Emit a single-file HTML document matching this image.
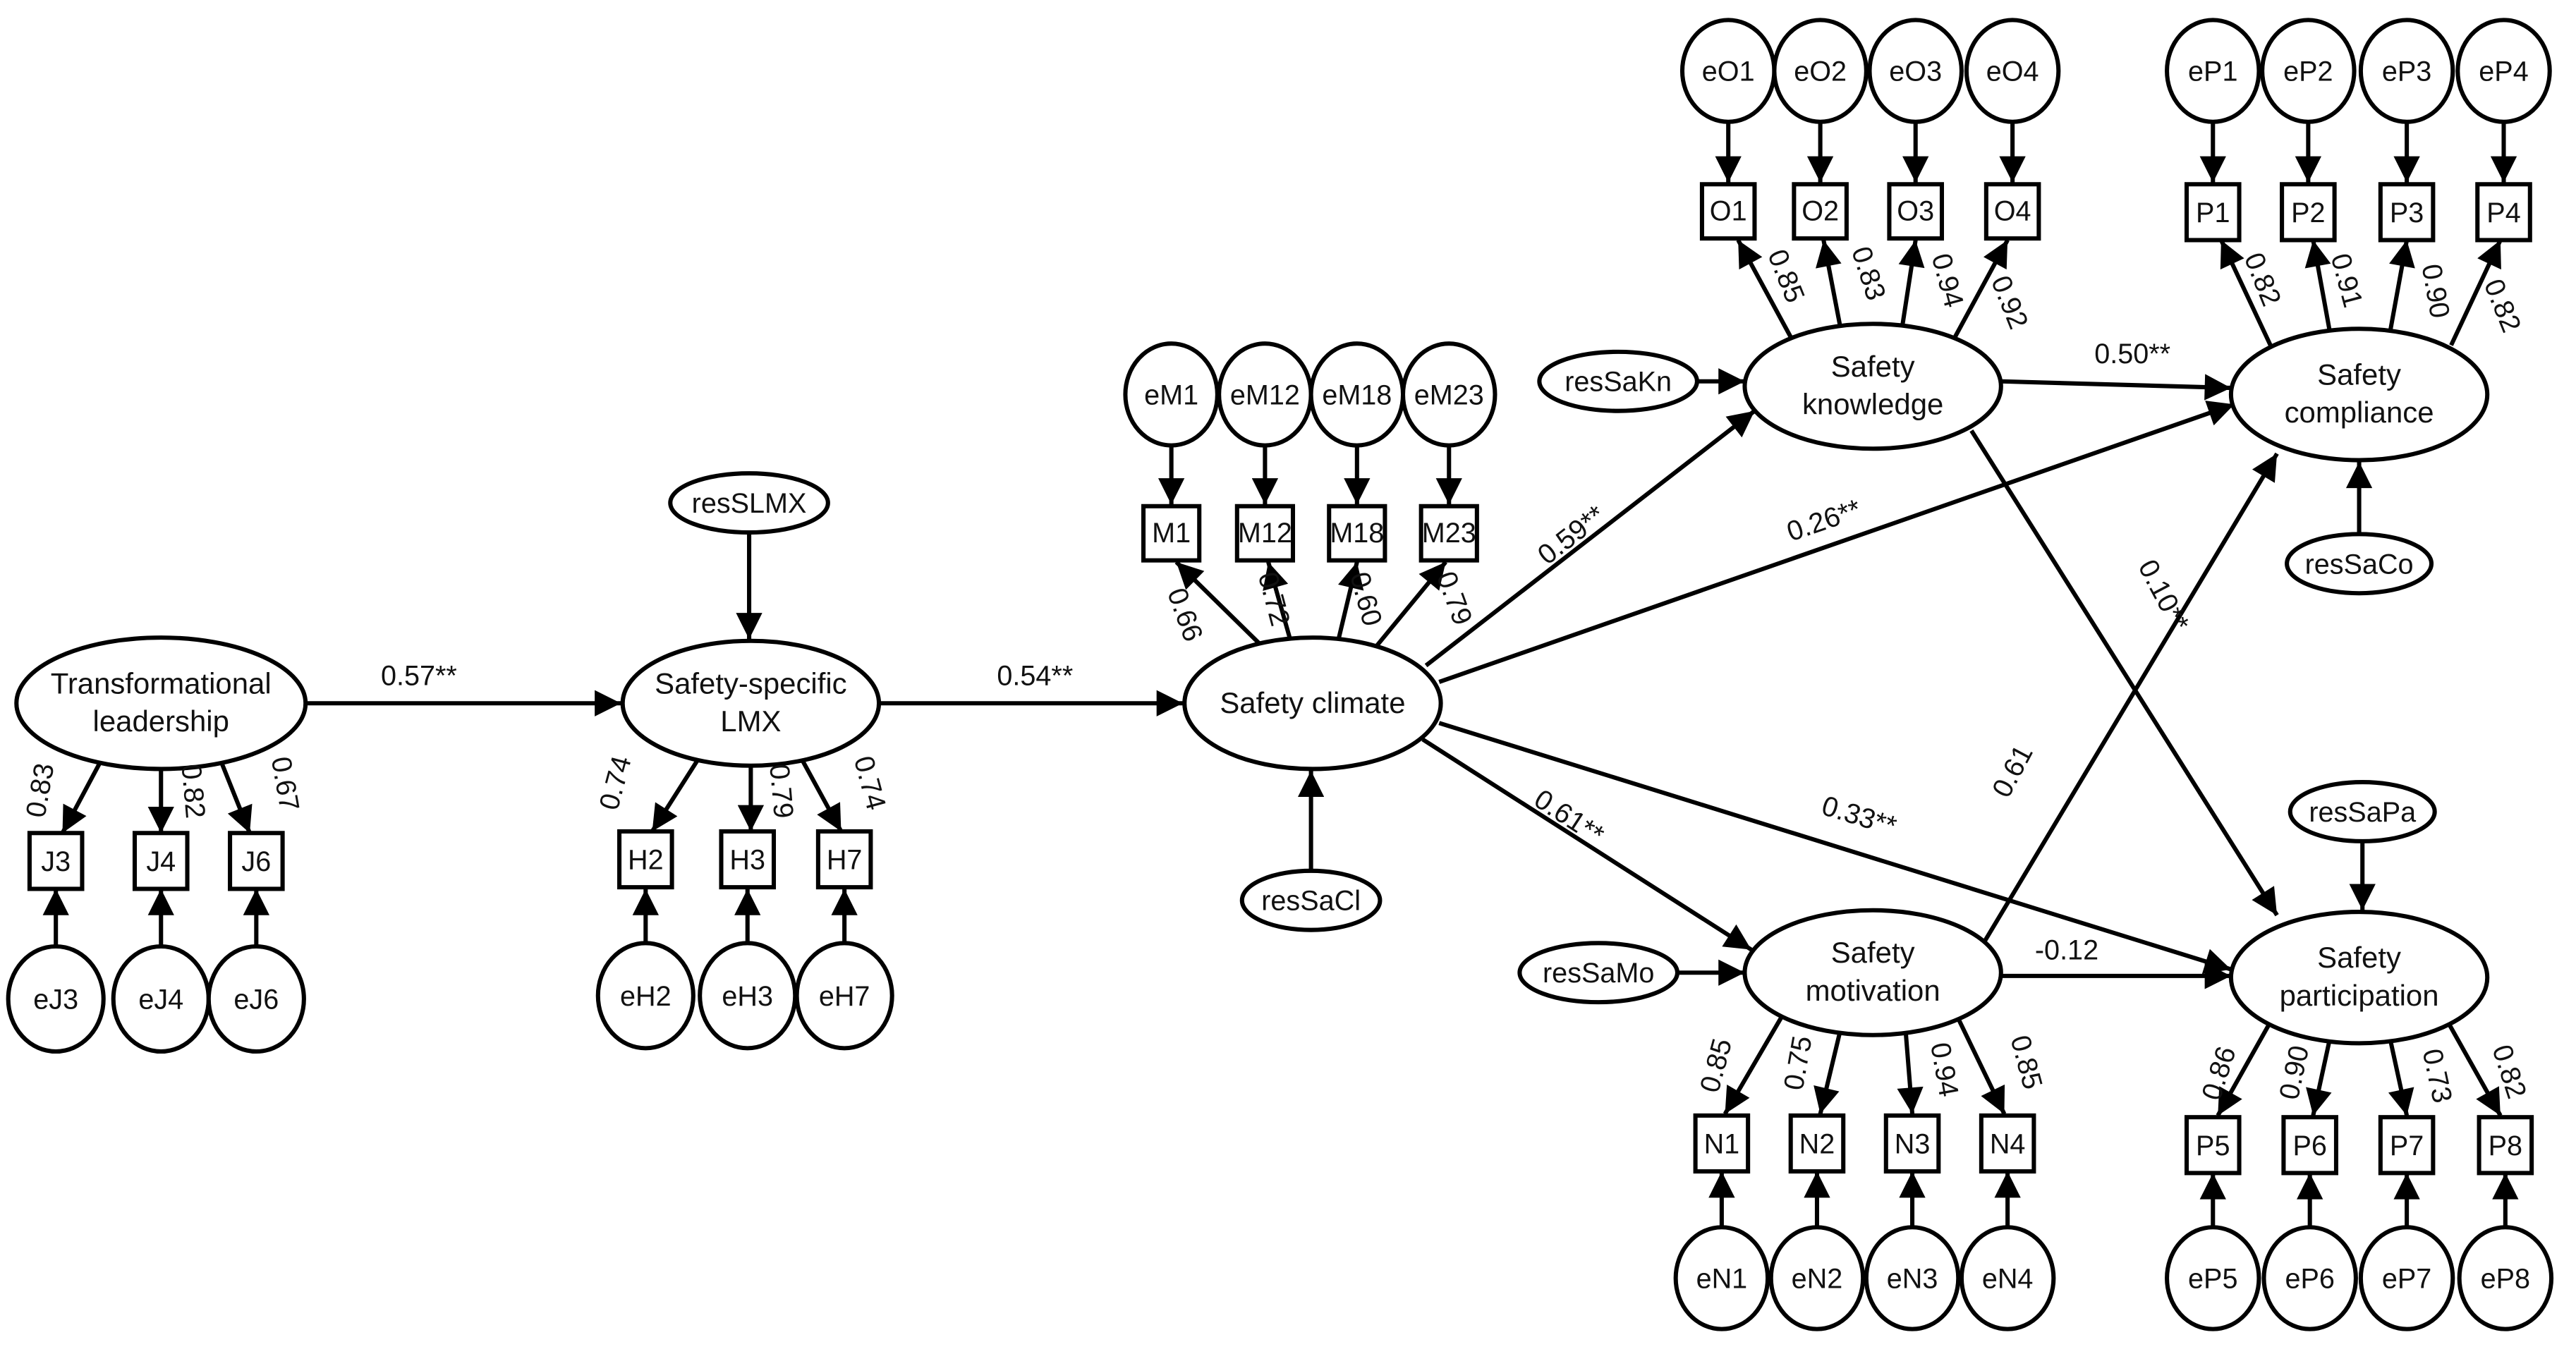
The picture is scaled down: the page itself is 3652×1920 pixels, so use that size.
<!DOCTYPE html>
<html><head><meta charset="utf-8"><style>
html,body{margin:0;padding:0;background:#fff}
svg{display:block}
text{font-family:"Liberation Sans",sans-serif;fill:#111}
</style></head><body>
<svg width="3652" height="1920" viewBox="0 0 1568 824" xmlns="http://www.w3.org/2000/svg">
<defs>
<marker id="a" viewBox="0 0 10 10" refX="10" refY="5" markerWidth="25" markerHeight="16" markerUnits="userSpaceOnUse" orient="auto"><path d="M0,0L10,5L0,10z" fill="#000"/></marker>
</defs>
<g stroke="#000" stroke-width="2.6" fill="none" marker-end="url(#a)">
<line x1="186" y1="428" x2="378" y2="428"/>
<line x1="535" y1="428" x2="720" y2="428"/>
<line x1="868" y1="405" x2="1068" y2="250"/>
<line x1="876" y1="415" x2="1360" y2="246"/>
<line x1="866" y1="450" x2="1066" y2="578"/>
<line x1="876" y1="440" x2="1358" y2="590"/>
<line x1="1218" y1="232" x2="1358" y2="236"/>
<line x1="1200" y1="262" x2="1386" y2="557"/>
<line x1="1208" y1="573" x2="1386" y2="276"/>
<line x1="1218" y1="594" x2="1358" y2="594"/>
<line x1="456" y1="324" x2="456" y2="389"/>
<line x1="798" y1="530" x2="798" y2="469"/>
<line x1="1033" y1="232" x2="1062" y2="232"/>
<line x1="1436" y1="325" x2="1436" y2="281"/>
<line x1="1021" y1="592" x2="1062" y2="592"/>
<line x1="1438" y1="512" x2="1438" y2="554"/>
<line x1="62" y1="462" x2="38" y2="507"/>
<line x1="98" y1="468" x2="98" y2="507"/>
<line x1="134" y1="462" x2="152" y2="507"/>
<line x1="34" y1="576" x2="34" y2="541"/>
<line x1="98" y1="576" x2="98" y2="541"/>
<line x1="156" y1="576" x2="156" y2="541"/>
<line x1="425" y1="462" x2="397" y2="506"/>
<line x1="457" y1="466" x2="457" y2="506"/>
<line x1="488" y1="462" x2="512" y2="506"/>
<line x1="393" y1="574" x2="393" y2="541"/>
<line x1="455" y1="574" x2="455" y2="541"/>
<line x1="514" y1="574" x2="514" y2="541"/>
<line x1="768" y1="393" x2="716" y2="342"/>
<line x1="785" y1="388" x2="772" y2="342"/>
<line x1="815" y1="388" x2="826" y2="342"/>
<line x1="838" y1="393" x2="880" y2="342"/>
<line x1="713" y1="271" x2="713" y2="307"/>
<line x1="770" y1="271" x2="770" y2="307"/>
<line x1="826" y1="271" x2="826" y2="307"/>
<line x1="882" y1="271" x2="882" y2="307"/>
<line x1="1090" y1="205" x2="1058" y2="146"/>
<line x1="1120" y1="198" x2="1110" y2="146"/>
<line x1="1158" y1="198" x2="1166" y2="146"/>
<line x1="1190" y1="205" x2="1222" y2="146"/>
<line x1="1052" y1="74" x2="1052" y2="111"/>
<line x1="1108" y1="74" x2="1108" y2="111"/>
<line x1="1166" y1="74" x2="1166" y2="111"/>
<line x1="1225" y1="74" x2="1225" y2="111"/>
<line x1="1382" y1="210" x2="1352" y2="146"/>
<line x1="1418" y1="201" x2="1408" y2="146"/>
<line x1="1455" y1="201" x2="1465" y2="146"/>
<line x1="1492" y1="210" x2="1522" y2="146"/>
<line x1="1347" y1="74" x2="1347" y2="111"/>
<line x1="1405" y1="74" x2="1405" y2="111"/>
<line x1="1465" y1="74" x2="1465" y2="111"/>
<line x1="1524" y1="74" x2="1524" y2="111"/>
<line x1="1085" y1="618" x2="1050" y2="678"/>
<line x1="1120" y1="628" x2="1108" y2="678"/>
<line x1="1160" y1="628" x2="1164" y2="678"/>
<line x1="1192" y1="620" x2="1220" y2="678"/>
<line x1="1048" y1="747" x2="1048" y2="713"/>
<line x1="1106" y1="747" x2="1106" y2="713"/>
<line x1="1164" y1="747" x2="1164" y2="713"/>
<line x1="1222" y1="747" x2="1222" y2="713"/>
<line x1="1382" y1="622" x2="1350" y2="679"/>
<line x1="1418" y1="633" x2="1408" y2="679"/>
<line x1="1455" y1="633" x2="1465" y2="679"/>
<line x1="1490" y1="622" x2="1522" y2="679"/>
<line x1="1347" y1="747" x2="1347" y2="714"/>
<line x1="1406" y1="747" x2="1406" y2="714"/>
<line x1="1465" y1="747" x2="1465" y2="714"/>
<line x1="1525" y1="747" x2="1525" y2="714"/>
</g>
<g stroke="#000" stroke-width="2.6" fill="#fff">
<ellipse cx="98" cy="428" rx="88" ry="40"/>
<ellipse cx="457" cy="428" rx="78" ry="38"/>
<ellipse cx="456" cy="306" rx="48" ry="18"/>
<ellipse cx="799" cy="428" rx="78" ry="40"/>
<ellipse cx="798" cy="548" rx="42" ry="18"/>
<ellipse cx="1140" cy="235" rx="78" ry="38"/>
<ellipse cx="985" cy="232" rx="48" ry="18"/>
<ellipse cx="1436" cy="240" rx="78" ry="40"/>
<ellipse cx="1436" cy="343" rx="44" ry="18"/>
<ellipse cx="1140" cy="592" rx="78" ry="38"/>
<ellipse cx="973" cy="592" rx="48" ry="18"/>
<ellipse cx="1436" cy="595" rx="78" ry="40"/>
<ellipse cx="1438" cy="494" rx="44" ry="18"/>
<rect x="18" y="507" width="32" height="34"/><rect x="82" y="507" width="32" height="34"/><rect x="140" y="507" width="32" height="34"/>
<rect x="377" y="506" width="32" height="34"/><rect x="439" y="506" width="32" height="34"/><rect x="498" y="506" width="32" height="34"/>
<rect x="696" y="308" width="34" height="33"/><rect x="753" y="308" width="34" height="33"/><rect x="809" y="308" width="34" height="33"/><rect x="865" y="308" width="34" height="33"/>
<rect x="1036" y="112" width="32" height="33"/><rect x="1092" y="112" width="32" height="33"/><rect x="1150" y="112" width="32" height="33"/><rect x="1209" y="112" width="32" height="33"/>
<rect x="1331" y="112" width="32" height="34"/><rect x="1389" y="112" width="32" height="34"/><rect x="1449" y="112" width="32" height="34"/><rect x="1508" y="112" width="32" height="34"/>
<rect x="1032" y="679" width="32" height="34"/><rect x="1090" y="679" width="32" height="34"/><rect x="1148" y="679" width="32" height="34"/><rect x="1206" y="679" width="32" height="34"/>
<rect x="1331" y="680" width="32" height="34"/><rect x="1390" y="680" width="32" height="34"/><rect x="1449" y="680" width="32" height="34"/><rect x="1509" y="680" width="32" height="34"/>
<ellipse cx="34" cy="608" rx="29" ry="32"/><ellipse cx="98" cy="608" rx="29" ry="32"/><ellipse cx="156" cy="608" rx="29" ry="32"/>
<ellipse cx="393" cy="606" rx="29" ry="32"/><ellipse cx="455" cy="606" rx="29" ry="32"/><ellipse cx="514" cy="606" rx="29" ry="32"/>
<ellipse cx="713" cy="240" rx="28" ry="31"/><ellipse cx="770" cy="240" rx="28" ry="31"/><ellipse cx="826" cy="240" rx="28" ry="31"/><ellipse cx="882" cy="240" rx="28" ry="31"/>
<ellipse cx="1052" cy="43" rx="28" ry="31"/><ellipse cx="1108" cy="43" rx="28" ry="31"/><ellipse cx="1166" cy="43" rx="28" ry="31"/><ellipse cx="1225" cy="43" rx="28" ry="31"/>
<ellipse cx="1347" cy="43" rx="28" ry="31"/><ellipse cx="1405" cy="43" rx="28" ry="31"/><ellipse cx="1465" cy="43" rx="28" ry="31"/><ellipse cx="1524" cy="43" rx="28" ry="31"/>
<ellipse cx="1048" cy="778" rx="28" ry="31"/><ellipse cx="1106" cy="778" rx="28" ry="31"/><ellipse cx="1164" cy="778" rx="28" ry="31"/><ellipse cx="1222" cy="778" rx="28" ry="31"/>
<ellipse cx="1347" cy="778" rx="28" ry="31"/><ellipse cx="1406" cy="778" rx="28" ry="31"/><ellipse cx="1465" cy="778" rx="28" ry="31"/><ellipse cx="1525" cy="778" rx="28" ry="31"/>
</g>
<g font-size="18" text-anchor="middle">
<text x="98" y="422">Transformational</text><text x="98" y="445">leadership</text>
<text x="457" y="422">Safety-specific</text><text x="457" y="445">LMX</text>
<text x="799" y="434">Safety climate</text>
<text x="1140" y="229">Safety</text><text x="1140" y="252">knowledge</text>
<text x="1436" y="234">Safety</text><text x="1436" y="257">compliance</text>
<text x="1140" y="586">Safety</text><text x="1140" y="609">motivation</text>
<text x="1436" y="589">Safety</text><text x="1436" y="612">participation</text>
</g>
<g font-size="17" text-anchor="middle">
<text x="456" y="312">resSLMX</text><text x="798" y="554">resSaCl</text><text x="985" y="238">resSaKn</text>
<text x="1436" y="349">resSaCo</text><text x="973" y="598">resSaMo</text><text x="1438" y="500">resSaPa</text>
<text x="34" y="530">J3</text><text x="98" y="530">J4</text><text x="156" y="530">J6</text>
<text x="393" y="529">H2</text><text x="455" y="529">H3</text><text x="514" y="529">H7</text>
<text x="713" y="330">M1</text><text x="770" y="330">M12</text><text x="826" y="330">M18</text><text x="882" y="330">M23</text>
<text x="1052" y="134">O1</text><text x="1108" y="134">O2</text><text x="1166" y="134">O3</text><text x="1225" y="134">O4</text>
<text x="1347" y="135">P1</text><text x="1405" y="135">P2</text><text x="1465" y="135">P3</text><text x="1524" y="135">P4</text>
<text x="1048" y="702">N1</text><text x="1106" y="702">N2</text><text x="1164" y="702">N3</text><text x="1222" y="702">N4</text>
<text x="1347" y="703">P5</text><text x="1406" y="703">P6</text><text x="1465" y="703">P7</text><text x="1525" y="703">P8</text>
<text x="34" y="614">eJ3</text><text x="98" y="614">eJ4</text><text x="156" y="614">eJ6</text>
<text x="393" y="612">eH2</text><text x="455" y="612">eH3</text><text x="514" y="612">eH7</text>
<text x="713" y="246">eM1</text><text x="770" y="246">eM12</text><text x="826" y="246">eM18</text><text x="882" y="246">eM23</text>
<text x="1052" y="49">eO1</text><text x="1108" y="49">eO2</text><text x="1166" y="49">eO3</text><text x="1225" y="49">eO4</text>
<text x="1347" y="49">eP1</text><text x="1405" y="49">eP2</text><text x="1465" y="49">eP3</text><text x="1524" y="49">eP4</text>
<text x="1048" y="784">eN1</text><text x="1106" y="784">eN2</text><text x="1164" y="784">eN3</text><text x="1222" y="784">eN4</text>
<text x="1347" y="784">eP5</text><text x="1406" y="784">eP6</text><text x="1465" y="784">eP7</text><text x="1525" y="784">eP8</text>
</g>
<g font-size="17" text-anchor="middle">
<text x="255" y="417">0.57**</text>
<text x="630" y="417">0.54**</text>
<text x="1298" y="221">0.50**</text>
<text x="1258" y="584">-0.12</text>
<text transform="translate(960,330) rotate(-38)">0.59**</text>
<text transform="translate(1112,322) rotate(-19)">0.26**</text>
<text transform="translate(952,502) rotate(33)">0.61**</text>
<text transform="translate(1130,502) rotate(17)">0.33**</text>
<text transform="translate(1312,365) rotate(62)">0.10**</text>
<text transform="translate(1230,472) rotate(-62)">0.61</text>
<text transform="translate(30,482) rotate(-80)">0.83</text>
<text transform="translate(112,482) rotate(85)">0.82</text>
<text transform="translate(168,478) rotate(80)">0.67</text>
<text transform="translate(380,478) rotate(-75)">0.74</text>
<text transform="translate(470,482) rotate(85)">0.79</text>
<text transform="translate(524,478) rotate(75)">0.74</text>
<text transform="translate(716,376) rotate(70)">0.66</text>
<text transform="translate(770,366) rotate(75)">0.72</text>
<text transform="translate(826,366) rotate(75)">0.60</text>
<text transform="translate(880,366) rotate(70)">0.79</text>
<text transform="translate(1082,170) rotate(68)">0.85</text>
<text transform="translate(1132,168) rotate(72)">0.83</text>
<text transform="translate(1180,172) rotate(75)">0.94</text>
<text transform="translate(1218,186) rotate(68)">0.92</text>
<text transform="translate(1372,172) rotate(68)">0.82</text>
<text transform="translate(1423,172) rotate(75)">0.91</text>
<text transform="translate(1477,178) rotate(80)">0.90</text>
<text transform="translate(1518,188) rotate(68)">0.82</text>
<text transform="translate(1050,650) rotate(-75)">0.85</text>
<text transform="translate(1100,648) rotate(-80)">0.75</text>
<text transform="translate(1178,652) rotate(80)">0.94</text>
<text transform="translate(1228,648) rotate(75)">0.85</text>
<text transform="translate(1356,655) rotate(-72)">0.86</text>
<text transform="translate(1402,654) rotate(-78)">0.90</text>
<text transform="translate(1478,656) rotate(78)">0.73</text>
<text transform="translate(1522,654) rotate(72)">0.82</text>
</g>
</svg>
</body></html>
